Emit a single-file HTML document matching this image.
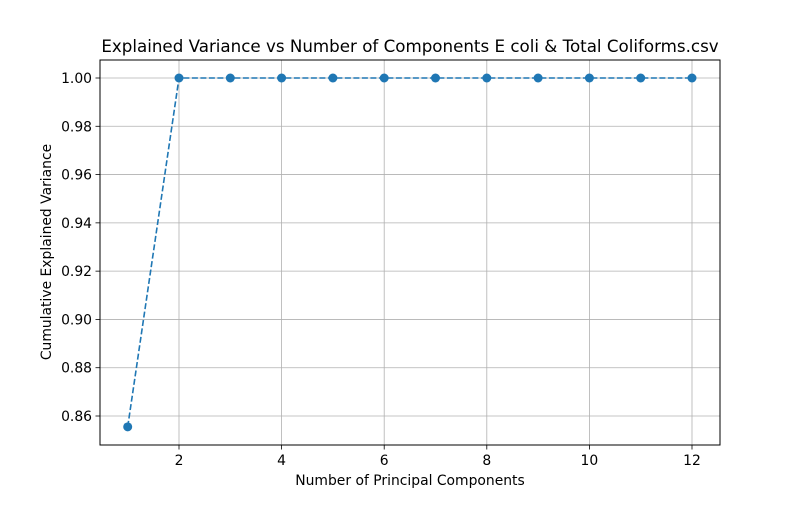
<!DOCTYPE html>
<html><head><meta charset="utf-8"><style>
body{margin:0;background:#fff;}
svg{font-family:"DejaVu Sans","Liberation Sans",sans-serif;}
</style></head><body>
<svg id="chart" width="800" height="500">
<rect width="800" height="500" fill="#fff"/>
<text x="410" y="52" font-size="16.7" text-anchor="middle">Explained Variance vs Number of Components E coli &amp; Total Coliforms.csv</text>
<g id="grid"></g>
<g id="ticks"></g>
<g id="series"></g>
<rect x="100" y="60" width="620" height="385" fill="none" stroke="#000" stroke-width="1"/>
<text x="410" y="485" font-size="13.9" text-anchor="middle">Number of Principal Components</text>
<text transform="translate(51,252) rotate(-90)" font-size="13.9" text-anchor="middle">Cumulative Explained Variance</text>
</svg>
<script>
const components = [1,2,3,4,5,6,7,8,9,10,11,12];
const cumVariance = [0.8555,1,1,1,1,1,1,1,1,1,1,1];
const xTicks = [2,4,6,8,10,12];
const yTicks = [0.86,0.88,0.90,0.92,0.94,0.96,0.98,1.00];
const NS='http://www.w3.org/2000/svg';
function xs(v){return 179+(v-2)*(692-179)/10;}
function ys(v){return 416-(v-0.86)*(416-78)/0.14;}
function mk(tag,attrs,parent){const e=document.createElementNS(NS,tag);for(const k in attrs)e.setAttribute(k,attrs[k]);document.getElementById(parent).appendChild(e);return e;}
xTicks.forEach(t=>{
  const x=xs(t);
  let g=mk('line',{x1:x,x2:x,y1:60,y2:445,stroke:'#b0b0b0','stroke-width':0.8},'grid');
  
  
  mk('line',{x1:x,x2:x,y1:445,y2:449.5,stroke:'#000','stroke-width':0.8},'ticks');
  let l=mk('text',{x:x,y:465,'font-size':13.9,'text-anchor':'middle'},'ticks');
  l.textContent=t;
  
  
});
yTicks.forEach(t=>{
  const y=ys(t);
  let g=mk('line',{x1:100,x2:720,y1:y,y2:y,stroke:'#b0b0b0','stroke-width':0.8},'grid');
  
  
  mk('line',{x1:95.5,x2:100,y1:y,y2:y,stroke:'#000','stroke-width':0.8},'ticks');
  let l=mk('text',{x:92,y:y+5,'font-size':13.9,'text-anchor':'end'},'ticks');
  l.textContent=t.toFixed(2);
  
  
});
const pts=components.map((c,i)=>xs(c)+','+ys(cumVariance[i])).join(' ');
let line=mk('polyline',{points:pts,fill:'none',stroke:'#1f77b4','stroke-width':1.6,'stroke-dasharray':'6,2.5'},'series');


components.forEach((c,i)=>{
  let p=mk('circle',{cx:xs(c),cy:ys(cumVariance[i]),r:4.5,fill:'#1f77b4'},'series');
  
  
});
</script>
</body></html>
